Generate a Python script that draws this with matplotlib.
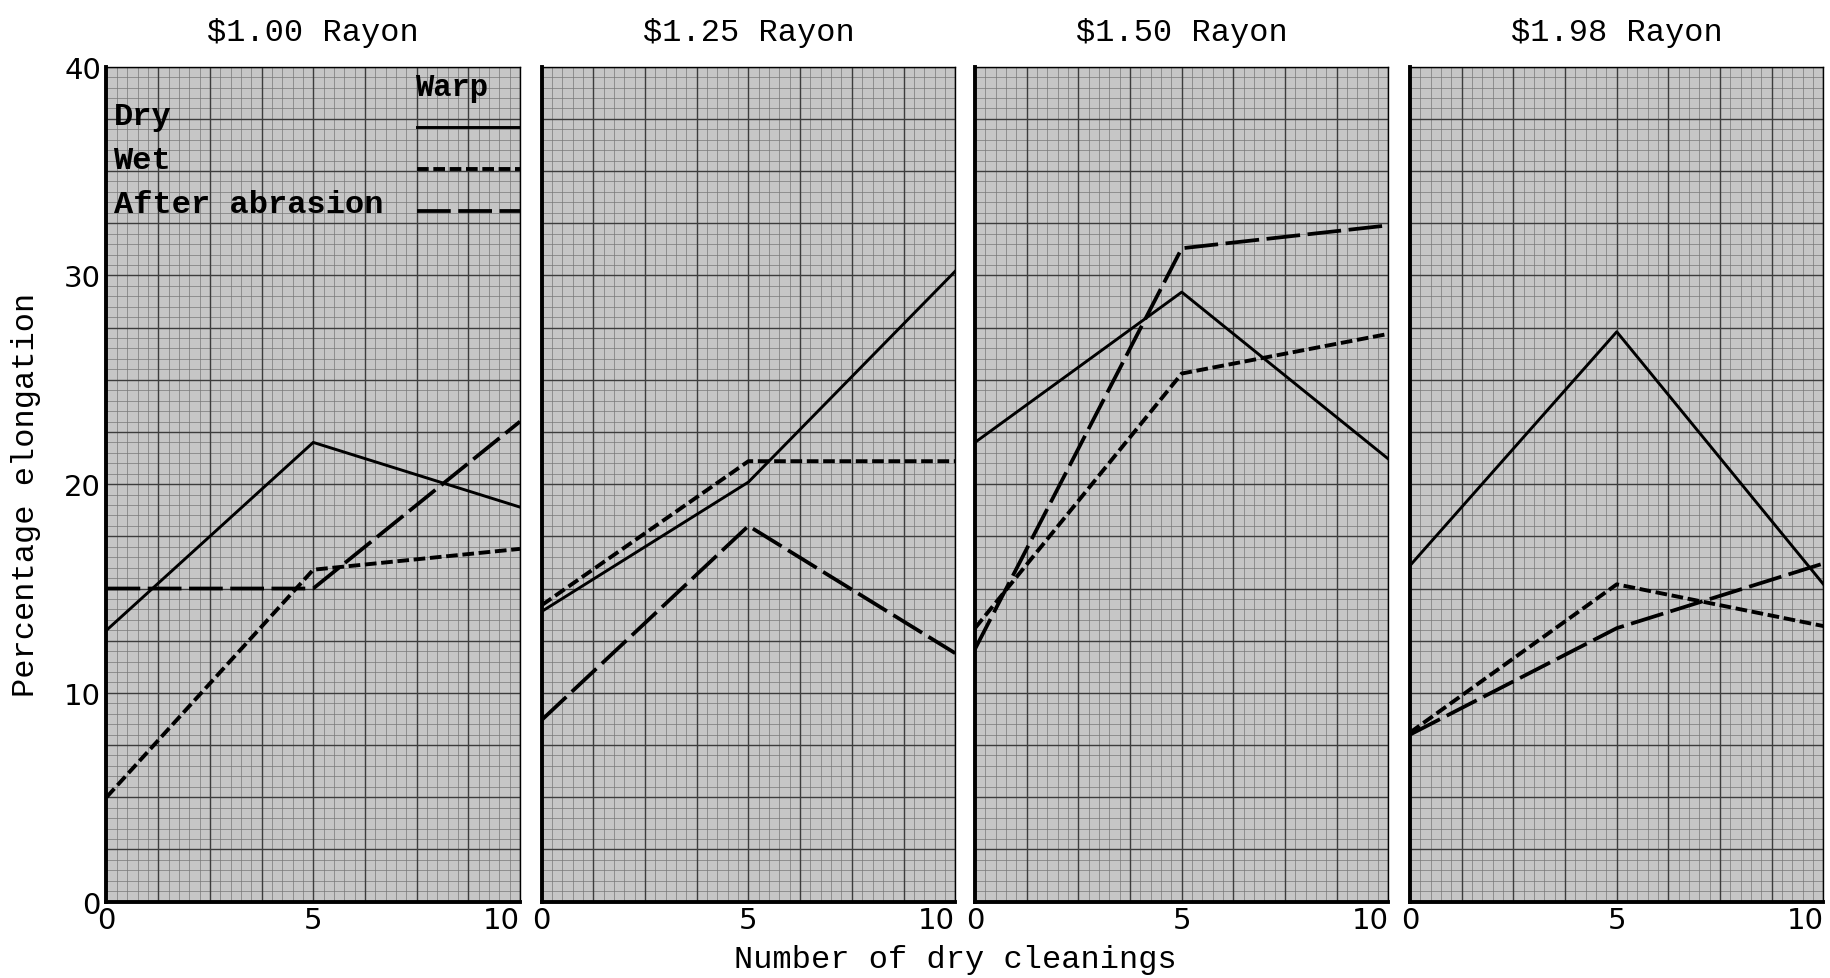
import numpy as np
import matplotlib
matplotlib.use("Agg")
import matplotlib.pyplot as plt
from matplotlib.lines import Line2D

# ---------------- data ----------------
cleanings = [0, 5, 10]
titles = ["$1.00 Rayon", "$1.25 Rayon", "$1.50 Rayon", "$1.98 Rayon"]

dry_100 = [13.0, 22.0, 18.9]
wet_100 = [5.0, 15.9, 16.9]
abr_100 = [15.0, 15.0, 23.0]

dry_125 = [13.9, 20.1, 30.2]
wet_125 = [14.2, 21.1, 21.1]
abr_125 = [8.7, 18.0, 11.9]

dry_150 = [22.0, 29.2, 21.2]
wet_150 = [13.1, 25.3, 27.2]
abr_150 = [12.1, 31.3, 32.4]

dry_198 = [16.1, 27.3, 15.2]
wet_198 = [8.1, 15.2, 13.2]
abr_198 = [8.0, 13.1, 16.2]

dry_series = [dry_100, dry_125, dry_150, dry_198]
wet_series = [wet_100, wet_125, wet_150, wet_198]
abr_series = [abr_100, abr_125, abr_150, abr_198]

legend_labels = ["Dry", "Wet", "After abrasion"]
legend_header = "Warp"
x_ticks = [0, 5, 10]
y_ticks = [0, 10, 20, 30, 40]
xlabel = "Number of dry cleanings"
ylabel = "Percentage elongation"

# ---------------- layout / style ----------------
W, H = 1831, 979
fig = plt.figure(figsize=(W / 100, H / 100), dpi=100)
fig.patch.set_facecolor("white")

mono = "Liberation Mono"
sans = "DejaVu Sans"

lefts_px = [106.5, 541.7, 975.0, 1410.0]
width_px = 413.5
bottom_frac = 1 - 902.6 / H
height_frac = (902.6 - 67.7) / H

styles = {
    "dry": dict(color="black", lw=2.1, ls="-"),
    "wet": dict(color="black", lw=2.8, ls=(0, (3.0, 1.2))),
    "abr": dict(color="black", lw=2.7, ls=(0, (9.0, 2.0))),
}

grid_x = np.arange(0, 10.001, 0.25)
grid_y = np.arange(0, 40.001, 0.5)


def is_major(v, step):
    r = v / step
    return abs(r - round(r)) < 1e-6


axes = []
for i in range(4):
    ax = fig.add_axes([lefts_px[i] / W, bottom_frac, width_px / W, height_frac])
    axes.append(ax)
    ax.set_facecolor("#c6c6c6")
    ax.set_xlim(0, 10)
    ax.set_ylim(0, 40)

    # graph paper
    minor_x = [v for v in grid_x if not is_major(v, 1.25)]
    major_x = [v for v in grid_x if is_major(v, 1.25)]
    minor_y = [v for v in grid_y if not is_major(v, 2.5)]
    major_y = [v for v in grid_y if is_major(v, 2.5)]
    ax.vlines(minor_x, 0, 40, color="#777777", lw=0.5, zorder=0.5)
    ax.hlines(minor_y, 0, 10, color="#777777", lw=0.5, zorder=0.5)
    ax.vlines(major_x, 0, 40, color="#3c3c3c", lw=1.0, zorder=0.6)
    ax.hlines(major_y, 0, 10, color="#3c3c3c", lw=1.0, zorder=0.6)

    ax.plot(cleanings, dry_series[i], zorder=3, **styles["dry"])
    ax.plot(cleanings, wet_series[i], zorder=3, **styles["wet"])
    ax.plot(cleanings, abr_series[i], zorder=3, **styles["abr"])

    for side in ["left", "bottom"]:
        ax.spines[side].set_linewidth(2.8)
    for side in ["top", "right"]:
        ax.spines[side].set_linewidth(1.0)

    ax.set_xticks(x_ticks)
    ax.set_xticklabels([str(t) for t in x_ticks], fontfamily=sans, fontsize=21)
    labs = ax.get_xticklabels()
    labs[-1].set_ha("right")
    ax.tick_params(axis="x", length=0, pad=3)
    if i == 0:
        ax.set_yticks(y_ticks)
        ax.set_yticklabels([str(t) for t in y_ticks], fontfamily=sans, fontsize=21)
        ax.tick_params(axis="y", length=0, pad=4)
    else:
        ax.set_yticks([])

    cx = (lefts_px[i] + width_px / 2) / W
    fig.text(cx, 1 - 32.7 / H, titles[i], ha="center", va="center",
             fontfamily=mono, fontsize=23, parse_math=False)

# legend inside first panel (typed look)
ax0 = axes[0]
ax0.text(0.745, 0.976, legend_header, transform=ax0.transAxes, ha="left", va="center",
         fontfamily=mono, fontweight="bold", fontsize=22, zorder=4)
label_y = [0.941, 0.888, 0.836]
key_y = [0.9275, 0.8775, 0.8275]
for lab, ly, ky, key in zip(legend_labels, label_y, key_y, ["dry", "wet", "abr"]):
    ax0.text(0.017, ly, lab, transform=ax0.transAxes, ha="left", va="center",
             fontfamily=mono, fontweight="bold", fontsize=23, zorder=4)
    ax0.add_line(Line2D([0.75, 1.0], [ky, ky], transform=ax0.transAxes, zorder=4,
                        **styles[key]))

fig.text(818 / 1568, 0.0194, xlabel, ha="center", va="center",
         fontfamily=mono, fontsize=23)
fig.text(0.014, 0.495, ylabel, ha="center", va="center", rotation=90,
         fontfamily=mono, fontsize=23)

fig.savefig("out.png", dpi=100, facecolor=fig.get_facecolor())
